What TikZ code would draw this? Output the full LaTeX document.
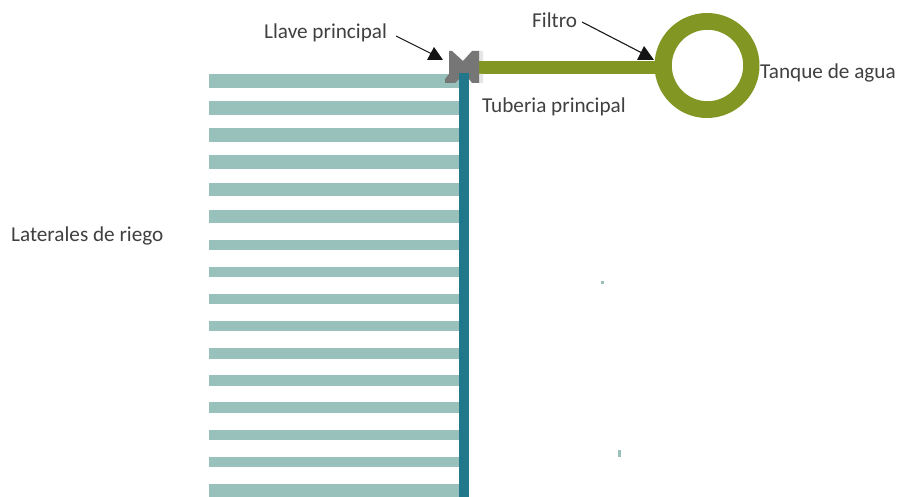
\documentclass[tikz,border=0pt]{standalone}
\usepackage{fontspec}
\setmainfont{Carlito}
\definecolor{lat}{HTML}{99C1BC}
\definecolor{mainp}{HTML}{20788A}
\definecolor{olive}{HTML}{819623}
\definecolor{valve}{HTML}{767676}
\definecolor{txt}{HTML}{404040}
\tikzset{
  lateral/.style={fill=lat,draw=none},
  lbl/.style={text=txt,font=\fontsize{21.2}{24}\selectfont,inner sep=0pt},
  callout/.style={draw=black!90,line width=1.1pt},
  callhead/.style={fill=black!92,draw=none}
}
\begin{document}
\begin{tikzpicture}[x=1pt,y=-1pt]
\useasboundingbox (0,0) rectangle (899,497);
\fill[white] (0,0) rectangle (899,497);
\foreach \y/\h in {74/14,101/14,128/14,155/14,183/13,210/13,240/10,267/10,294/10,321/10,348/11,375/11,402/11,430/10,457/10,484/13}
  \fill[lateral] (209,\y) rectangle (459,\y+\h);
\fill[lat] (601,281) rectangle (604,284);
\fill[lat] (618,450) rectangle (621,457);
\fill[olive] (479,61) rectangle (660,74);
\fill[olive,even odd rule] (707,65.5) circle (52.5) (707.5,65.5) circle (35.7);
\fill[black!10] (479,51) rectangle (483,61) (479,74) rectangle (483,83);
\fill[valve] (449,51) -- (452,51) -- (463,61) -- (472,51) -- (479,51) -- (479,83) -- (472,83) -- (469,79) -- (469,74) -- (459,74) -- (459,79) -- (455,83) -- (445,83) -- (445,79) -- (449,74) -- cycle;
\fill[mainp] (459,73.5) rectangle (469,497);
\node[lbl,anchor=base west] (llave) at (264,39) {Llave principal};
\node[lbl,anchor=base west] (filtro) at (532,28) {Filtro};
\node[lbl,anchor=base west] (tanque) at (760,78.5) {Tanque de agua};
\node[lbl,anchor=base west] (tuberia) at (482,112.5) {Tuberia principal};
\node[lbl,anchor=base west] (laterales) at (11,241.5) {Laterales de riego};
\coordinate (a1) at (396,36);
\coordinate (a2) at (431,53.5);
\coordinate (b1) at (582,22);
\coordinate (b2) at (642,53);
\draw[callout] (a1) -- (a2);
\draw[callout] (b1) -- (b2);
\fill[callhead] (434,47) -- (443,60) -- (427,60) -- cycle;
\fill[callhead] (644,46) -- (654,60) -- (637,60) -- cycle;
\end{tikzpicture}
\end{document}
